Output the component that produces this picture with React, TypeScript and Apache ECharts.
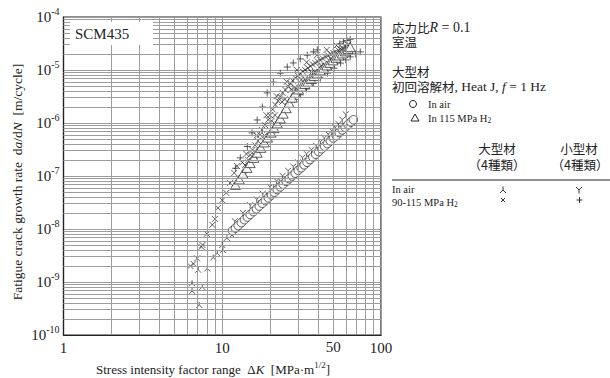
import React, { useEffect, useRef } from 'react';
import * as echarts from 'echarts';

const W = 610;
const H = 378;

const SERIF = "'Liberation Serif', 'Times New Roman', serif";
const CJK = "'Noto Sans CJK JP', 'Noto Sans CJK SC', sans-serif";
const INK = '#222';
const GRID = '#9c9c9c';

// axis ticks
const xTickValues = [1, 10, 100];
const xExtraLabel = 50;
const yTickExponents = [-10, -9, -8, -7, -6, -5, -4];
const minorMantissas = [2, 3, 4, 5, 6, 7, 8, 9];

// ○ large material, Heat J, in air  [ΔK, da/dN]
const airHeatJ: [number, number][] = [
  [11.6, 9.3e-9], [12.1, 1.04e-8], [12.6, 1.16e-8], [13.2, 1.32e-8], [13.8, 1.5e-8],
  [14.4, 1.68e-8], [15.0, 1.88e-8], [15.7, 2.13e-8], [16.4, 2.4e-8], [17.1, 2.7e-8],
  [17.9, 3.05e-8], [18.7, 3.44e-8], [19.5, 3.87e-8], [20.4, 4.38e-8], [21.3, 4.93e-8],
  [22.2, 5.53e-8], [23.2, 6.24e-8], [24.2, 7.0e-8], [25.3, 7.9e-8], [26.4, 8.9e-8],
  [27.6, 1.0e-7], [28.8, 1.13e-7], [30.1, 1.28e-7], [31.4, 1.43e-7], [32.8, 1.62e-7],
  [34.2, 1.81e-7], [35.7, 2.04e-7], [37.2, 2.29e-7], [38.8, 2.57e-7], [40.5, 2.89e-7],
  [42.3, 3.26e-7], [44.1, 3.65e-7], [46.0, 4.1e-7], [48.0, 4.6e-7], [50.1, 5.2e-7],
  [52.3, 5.8e-7], [54.6, 6.6e-7], [57.0, 7.4e-7], [59.5, 8.3e-7], [62.0, 9.3e-7],
  [64.6, 1.04e-6], [67.0, 1.15e-6],
];

// △ large material, Heat J, in 115 MPa H2
const h2HeatJ: [number, number][] = [
  [12.1, 6.8e-8], [12.8, 8.6e-8], [13.5, 1.1e-7], [14.3, 1.42e-7],
  [15.0, 1.75e-7], [15.8, 2.2e-7], [16.6, 2.75e-7], [17.5, 3.4e-7],
  [18.4, 4.3e-7], [19.3, 5.3e-7], [20.3, 6.6e-7], [21.2, 8.0e-7], [22.2, 9.8e-7],
  [23.2, 1.22e-6], [24.2, 1.5e-6], [25.3, 1.9e-6], [26.4, 2.4e-6],
  [27.6, 3.0e-6], [28.9, 3.7e-6], [30.2, 4.3e-6], [31.6, 4.85e-6],
  [33.1, 5.45e-6], [34.6, 6.0e-6], [36.2, 6.8e-6], [37.9, 7.7e-6], [39.6, 8.6e-6],
  [41.5, 9.8e-6], [43.5, 1.1e-5], [45.5, 1.22e-5], [47.6, 1.36e-5], [49.8, 1.52e-5],
  [52.1, 1.7e-5], [54.5, 1.88e-5], [57.0, 2.05e-5], [59.6, 2.25e-5],
  [62.0, 2.5e-5], [64.0, 2.7e-5],
];

// ⅄ large material (4 kinds), in air
const airLarge: [number, number][] = [
  [6.45, 9.5e-10], [6.45, 6.8e-10], [7.48, 8.1e-10], [7.16, 3.7e-10], [7.06, 1.7e-9],
  [8.04, 1.8e-9], [8.77, 2.9e-9], [9.3, 3.5e-9], [10.0, 5.0e-9], [10.1, 4.0e-9],
  [10.7, 6.8e-9], [11.5, 7.7e-9], [12.3, 1.0e-8], [13.0, 1.25e-8], [14.0, 1.6e-8],
  [15.5, 2.3e-8], [17.0, 3.1e-8], [19.0, 4.3e-8], [21.0, 5.9e-8], [23.0, 7.6e-8],
];

// Y small material (4 kinds), in air
const airSmall: [number, number][] = [
  [12.0, 1.4e-8], [13.5, 2.0e-8], [15.0, 2.8e-8], [16.5, 3.6e-8], [18.0, 4.6e-8],
  [20.0, 6.2e-8], [22.0, 8.0e-8], [24.0, 1.0e-7], [26.0, 1.25e-7], [28.0, 1.5e-7],
  [30.0, 1.8e-7], [32.0, 2.2e-7], [34.0, 2.6e-7], [36.5, 3.1e-7], [39.0, 3.7e-7],
  [41.5, 4.4e-7], [44.0, 5.2e-7], [46.5, 6.1e-7], [49.0, 7.1e-7], [51.5, 8.2e-7],
  [54.0, 9.5e-7], [57.0, 1.15e-6], [60.0, 1.45e-6],
];

// × large material (4 kinds), in 90-115 MPa H2
const h2Large: [number, number][] = [
  [6.3, 2.0e-9], [6.6, 2.2e-9], [6.95, 2.8e-9], [7.4, 4.6e-9], [7.5, 5.0e-9],
  [8.0, 8.1e-9], [8.65, 1.2e-8], [9.0, 1.55e-8], [9.4, 2.5e-8], [10.0, 3.5e-8],
  [10.6, 4.8e-8], [11.2, 7.4e-8], [11.9, 1.14e-7], [12.4, 1.54e-7], [13.4, 1.8e-7],
  [13.9, 1.6e-7], [16.1, 3.8e-7], [18.6, 9.1e-7], [21.6, 2.2e-6], [25.0, 4.2e-6],
  [28.9, 7.1e-6], [33.3, 1.0e-5], [38.6, 1.35e-5], [44.7, 1.77e-5], [51.6, 2.2e-5],
  [59.7, 2.8e-5],
  [15.0, 2.5e-7], [17.3, 6.0e-7], [20.0, 1.4e-6], [23.2, 3.1e-6], [26.9, 5.6e-6],
  [31.0, 8.6e-6], [35.9, 1.18e-5], [41.5, 1.55e-5], [48.0, 2.0e-5], [55.5, 2.5e-5],
  [14.2, 2.6e-7], [16.5, 5.8e-7], [19.0, 1.4e-6], [22.0, 3.2e-6], [25.5, 6.0e-6],
  [29.5, 1.0e-5], [34.0, 1.4e-5], [39.5, 1.9e-5], [45.5, 2.4e-5], [52.5, 2.9e-5],
  [13.8, 1.05e-7], [16.0, 2.4e-7], [18.5, 5.8e-7], [21.5, 1.4e-6], [24.8, 2.8e-6],
  [28.7, 4.7e-6], [33.0, 6.7e-6], [38.3, 9.2e-6], [44.3, 1.2e-5], [51.2, 1.5e-5],
  [59.0, 1.95e-5],
  [14.6, 2.0e-7], [15.5, 3.1e-7], [16.8, 4.6e-7], [17.8, 7.4e-7], [19.5, 1.15e-6],
  [20.8, 1.8e-6], [22.5, 2.6e-6], [24.0, 3.7e-6], [26.0, 4.9e-6], [27.8, 6.3e-6],
  [30.0, 7.8e-6], [32.2, 9.3e-6], [34.6, 1.09e-5], [37.2, 1.27e-5], [40.0, 1.45e-5],
  [43.0, 1.65e-5], [46.5, 1.88e-5], [50.0, 2.1e-5], [54.0, 2.35e-5], [57.5, 2.6e-5],
  [62.0, 3.0e-5], [20.5, 1.1e-6], [23.8, 2.5e-6], [27.2, 4.3e-6], [31.5, 6.5e-6],
  [36.5, 9.0e-6], [42.0, 1.2e-5], [48.5, 1.6e-5], [56.0, 2.05e-5],
];

// + small material (4 kinds), in 90-115 MPa H2
const h2Small: [number, number][] = [
  [12.1, 1.4e-7], [13.0, 2.2e-7], [14.4, 3.6e-7], [15.4, 6.5e-7], [16.6, 1.14e-6],
  [17.9, 2.0e-6], [19.2, 3.7e-6], [21.0, 5.9e-6], [23.2, 8.7e-6], [25.7, 1.14e-5],
  [28.0, 1.36e-5], [31.0, 1.62e-5], [34.3, 1.9e-5], [37.5, 2.2e-5], [39.7, 2.4e-5],
  [55.0, 3.1e-5], [58.0, 3.4e-5], [61.0, 3.6e-5], [64.0, 3.8e-5],
  [26.0, 2.3e-6], [28.5, 2.8e-6], [31.0, 3.4e-6], [34.0, 4.4e-6], [37.5, 5.6e-6],
  [41.5, 7.0e-6], [46.0, 8.7e-6], [50.5, 1.08e-5], [55.5, 1.35e-5], [60.0, 1.55e-5],
  [64.0, 1.77e-5], [69.0, 2.0e-5], [74.0, 2.2e-5],
];

const SYM_X = 'path://M0,0L10,10M10,0L0,10';
const SYM_PLUS = 'path://M5,0L5,10M0,5L10,5';
const SYM_Y = 'path://M0,0L5,5L10,0M5,5L5,11';
const SYM_LAMBDA = 'path://M5,0L5,5L0,10M5,5L10,10';

function scatter(
  name: string,
  data: [number, number][],
  symbol: string,
  size: number | number[],
  fill = 'transparent',
  bw = 0.9,
  z = 3,
) {
  return {
    name,
    type: 'scatter',
    data,
    symbol,
    symbolSize: size,
    z,
    itemStyle: { color: fill, borderColor: INK, borderWidth: bw },
  };
}

export default function App() {
  const ref = useRef<HTMLDivElement>(null);

  useEffect(() => {
    if (!ref.current) return;
    const chart = echarts.init(ref.current, null, { renderer: 'svg' });

    const xMinor = [0, 1]
      .flatMap((e) => minorMantissas.map((m) => m * Math.pow(10, e)))
      .filter((v) => v !== xExtraLabel);
    const yMinor = yTickExponents
      .slice(0, -1)
      .flatMap((e) => minorMantissas.map((m) => m * Math.pow(10, e)));
    const yMin = Math.pow(10, yTickExponents[0]);
    const yMax = Math.pow(10, yTickExponents[yTickExponents.length - 1]);

    const gridLines: any[] = [
      ...xMinor.map((v) => ({ xAxis: v })),
      ...yMinor.map((v) => ({ yAxis: v })),
      [
        {
          coord: [xExtraLabel, yMin],
          label: {
            show: true,
            position: 'start',
            formatter: String(xExtraLabel),
            fontFamily: SERIF,
            fontSize: 15,
            color: INK,
            distance: 4,
          },
        },
        { coord: [xExtraLabel, yMax] },
      ],
    ];

    const supRich = {
      b: { fontFamily: SERIF, fontSize: 15, color: INK, lineHeight: 22, verticalAlign: 'middle' },
      s: { fontFamily: SERIF, fontSize: 10, color: INK, lineHeight: 12, verticalAlign: 'top' },
    };

    const tight = (size: number, family: string, extra: any = {}) => ({
      fontFamily: family,
      fontSize: size,
      fill: INK,
      lineHeight: 11,
      ...extra,
    });

    const option: any = {
      animation: false,
      backgroundColor: '#fff',
      grid: {
        left: 63.5,
        top: 17,
        width: 317.5,
        height: 318,
        show: true,
        borderColor: INK,
        borderWidth: 1.2,
        backgroundColor: 'transparent',
      },
      xAxis: {
        type: 'log',
        logBase: 10,
        min: xTickValues[0],
        max: xTickValues[xTickValues.length - 1],
        splitNumber: 2,
        axisLine: { show: true, lineStyle: { color: INK, width: 1.2 } },
        axisTick: { show: false },
        splitLine: { show: true, lineStyle: { color: GRID, width: 1 } },
        axisLabel: {
          formatter: (v: number) => String(Math.round(v)),
          fontFamily: SERIF,
          fontSize: 15,
          color: INK,
          margin: 5,
        },
      },
      yAxis: {
        type: 'log',
        logBase: 10,
        min: yMin,
        max: yMax,
        splitNumber: 6,
        axisLine: { show: true, lineStyle: { color: INK, width: 1.2 } },
        axisTick: { show: false },
        splitLine: { show: true, lineStyle: { color: GRID, width: 1 } },
        axisLabel: {
          formatter: (v: number) => `{b|10}{s|${Math.round(Math.log10(v))}}`,
          rich: supRich,
          margin: 4,
        },
      },
      series: [
        {
          name: 'grid',
          type: 'line',
          data: [],
          z: 1,
          markLine: {
            silent: true,
            symbol: ['none', 'none'],
            precision: 20,
            animation: false,
            label: { show: false },
            lineStyle: { color: GRID, width: 1, type: 'solid' },
            emphasis: { disabled: true },
            data: gridLines,
          },
        },
        scatter('airLarge', airLarge, SYM_LAMBDA, [6, 6]),
        scatter('airSmall', airSmall, SYM_Y, [6, 6]),
        scatter('h2Large', h2Large, SYM_X, [6, 6]),
        scatter('h2Small', h2Small, SYM_PLUS, [7, 7]),
        scatter('airHeatJ', airHeatJ, 'circle', 8.5, '#fff', 0.9, 4),
        scatter('h2HeatJ', h2HeatJ, 'triangle', [10, 9], '#fff', 0.9, 4),
      ],
      graphic: [
        // SCM435 label box
        { type: 'rect', shape: { x: 70, y: 22, width: 83, height: 23 }, style: { fill: '#fff' }, z: 10 },
        {
          type: 'text', x: 75, y: 34, z: 11,
          style: { text: 'SCM435', font: `15px ${SERIF}`, fill: INK, verticalAlign: 'middle' },
        },
        // y axis title
        {
          type: 'text', x: 17, y: 182, rotation: Math.PI / 2, z: 11,
          style: {
            text: '{n|Fatigue crack growth rate  d}{i|a}{n|/d}{i|N}{n|  [m/cycle]}',
            rich: {
              n: { fontFamily: SERIF, fontSize: 13.5, fill: INK },
              i: { fontFamily: SERIF, fontSize: 13.5, fontStyle: 'italic', fill: INK },
            },
            align: 'center', verticalAlign: 'middle',
          },
        },
        // x axis title
        {
          type: 'text', x: 213, y: 369, z: 11,
          style: {
            text: '{n|Stress intensity factor range  Δ}{i|K}{n|  [MPa·m}{s|1/2}{n|]}',
            rich: {
              n: { fontFamily: SERIF, fontSize: 13, fill: INK, lineHeight: 18, verticalAlign: 'middle' },
              i: { fontFamily: SERIF, fontSize: 13, fontStyle: 'italic', fill: INK, lineHeight: 18, verticalAlign: 'middle' },
              s: { fontFamily: SERIF, fontSize: 9, fill: INK, lineHeight: 10, verticalAlign: 'top' },
            },
            align: 'center', verticalAlign: 'middle',
          },
        },
        // right panel
        {
          type: 'text', x: 392, y: 27.5, z: 11,
          style: {
            text: '{c|応力比}{i|R}{n| = 0.1}',
            rich: {
              c: tight(12.5, CJK),
              i: tight(14, SERIF, { fontStyle: 'italic' }),
              n: tight(14, SERIF),
            },
            verticalAlign: 'middle',
          },
        },
        { type: 'text', x: 392, y: 41.5, z: 11, style: { text: '室温', font: `12.5px ${CJK}`, fill: INK, lineHeight: 11, verticalAlign: 'middle' } },
        { type: 'text', x: 392, y: 71.5, z: 11, style: { text: '大型材', font: `12.5px ${CJK}`, fill: INK, lineHeight: 11, verticalAlign: 'middle' } },
        {
          type: 'text', x: 392, y: 86.5, z: 11,
          style: {
            text: '{c|初回溶解材}{n|, Heat J, }{i|f}{n| = 1 Hz}',
            rich: {
              c: tight(12.5, CJK),
              i: tight(13.5, SERIF, { fontStyle: 'italic' }),
              n: tight(13.5, SERIF),
            },
            verticalAlign: 'middle',
          },
        },
        { type: 'circle', shape: { cx: 413, cy: 104, r: 3.5 }, style: { fill: 'none', stroke: INK, lineWidth: 1 }, z: 11 },
        { type: 'text', x: 428, y: 104, z: 11, style: { text: 'In air', font: `10.5px ${SERIF}`, fill: INK, lineHeight: 11, verticalAlign: 'middle' } },
        {
          type: 'polygon', z: 11,
          shape: { points: [[415, 114], [411, 121], [419, 121]] },
          style: { fill: 'none', stroke: INK, lineWidth: 1 },
        },
        {
          type: 'text', x: 428, y: 118, z: 11,
          style: {
            text: '{n|In 115 MPa H}{s|2}',
            rich: {
              n: { fontFamily: SERIF, fontSize: 10.5, fill: INK, lineHeight: 12, verticalAlign: 'middle' },
              s: { fontFamily: SERIF, fontSize: 7.5, fill: INK, lineHeight: 8, verticalAlign: 'bottom' },
            },
            verticalAlign: 'middle',
          },
        },
        { type: 'text', x: 497, y: 148.5, z: 11, style: { text: '大型材', font: `12.5px ${CJK}`, fill: INK, lineHeight: 12, align: 'center', verticalAlign: 'middle' } },
        { type: 'text', x: 497, y: 164.5, z: 11, style: { text: '（4種類）', font: `12.5px ${CJK}`, fill: INK, lineHeight: 12, align: 'center', verticalAlign: 'middle' } },
        { type: 'text', x: 579, y: 148.5, z: 11, style: { text: '小型材', font: `12.5px ${CJK}`, fill: INK, lineHeight: 12, align: 'center', verticalAlign: 'middle' } },
        { type: 'text', x: 580, y: 164.5, z: 11, style: { text: '（4種類）', font: `12.5px ${CJK}`, fill: INK, lineHeight: 12, align: 'center', verticalAlign: 'middle' } },
        { type: 'line', shape: { x1: 392, y1: 180, x2: 610, y2: 180 }, style: { stroke: INK, lineWidth: 1 }, z: 11 },
        { type: 'text', x: 392, y: 189.5, z: 11, style: { text: 'In air', font: `10.5px ${SERIF}`, fill: INK, lineHeight: 11, verticalAlign: 'middle' } },
        {
          type: 'text', x: 392, y: 202, z: 11,
          style: {
            text: '{n|90-115 MPa H}{s|2}',
            rich: {
              n: { fontFamily: SERIF, fontSize: 10.5, fill: INK, lineHeight: 12, verticalAlign: 'middle' },
              s: { fontFamily: SERIF, fontSize: 7.5, fill: INK, lineHeight: 8, verticalAlign: 'bottom' },
            },
            verticalAlign: 'middle',
          },
        },
        // table symbols
        { type: 'polyline', shape: { points: [[503, 186.5], [503, 190]] }, style: { stroke: INK, lineWidth: 0.9, fill: 'none' }, z: 11 },
        { type: 'polyline', shape: { points: [[500, 193], [503, 190], [506, 193]] }, style: { stroke: INK, lineWidth: 0.9, fill: 'none' }, z: 11 },
        { type: 'polyline', shape: { points: [[576, 187], [579, 190], [582, 187]] }, style: { stroke: INK, lineWidth: 0.9, fill: 'none' }, z: 11 },
        { type: 'polyline', shape: { points: [[579, 190], [579, 193.5]] }, style: { stroke: INK, lineWidth: 0.9, fill: 'none' }, z: 11 },
        { type: 'line', shape: { x1: 501, y1: 198, x2: 505, y2: 202 }, style: { stroke: INK, lineWidth: 0.9 }, z: 11 },
        { type: 'line', shape: { x1: 505, y1: 198, x2: 501, y2: 202 }, style: { stroke: INK, lineWidth: 0.9 }, z: 11 },
        { type: 'line', shape: { x1: 579.5, y1: 197, x2: 579.5, y2: 203 }, style: { stroke: INK, lineWidth: 0.9 }, z: 11 },
        { type: 'line', shape: { x1: 576.5, y1: 200, x2: 582.5, y2: 200 }, style: { stroke: INK, lineWidth: 0.9 }, z: 11 },
      ],
    };

    chart.setOption(option);
    return () => chart.dispose();
  }, []);

  return (
    <div
      ref={ref}
      style={{ position: 'fixed', left: 0, top: 0, width: W, height: H, background: '#fff' }}
    />
  );
}
